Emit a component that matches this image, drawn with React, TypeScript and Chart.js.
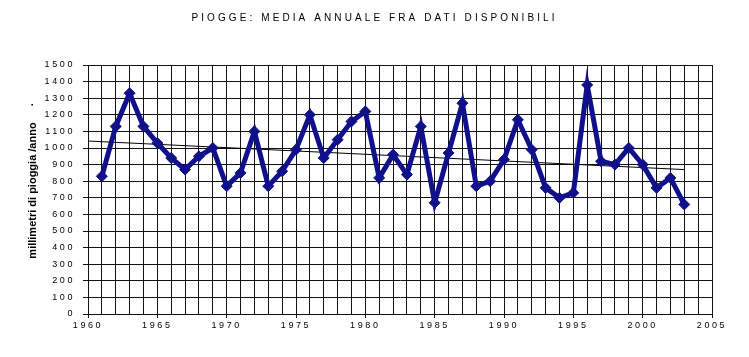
import React, { useEffect, useRef } from 'react';
import { Chart, registerables } from 'chart.js';

Chart.register(...registerables);

// ---- data ----
const TITLE = 'PIOGGE: MEDIA ANNUALE FRA DATI DISPONIBILI';
const Y_LABEL = 'millimetri di pioggia /anno';
const Y_LABEL_MARK = '.';

const years = [
  1961, 1962, 1963, 1964, 1965, 1966, 1967, 1968, 1969, 1970,
  1971, 1972, 1973, 1974, 1975, 1976, 1977, 1978, 1979, 1980,
  1981, 1982, 1983, 1984, 1985, 1986, 1987, 1988, 1989, 1990,
  1991, 1992, 1993, 1994, 1995, 1996, 1997, 1998, 1999, 2000,
  2001, 2002, 2003,
];
const rainfall = [
  830, 1130, 1330, 1130, 1030, 940, 870, 950, 1000, 770,
  850, 1100, 770, 860, 990, 1200, 940, 1050, 1160, 1220,
  820, 960, 840, 1130, 670, 970, 1270, 770, 800, 930,
  1170, 990, 760, 700, 730, 1380, 920, 900, 1000, 900,
  760, 820, 660,
];
const trendYears = [1960, 2003];
const trendValues = [1042, 870];

const X_MIN = 1960;
const X_MAX = 2005;
const X_LABEL_EVERY = 5;
const Y_MIN = 0;
const Y_MAX = 1500;
const Y_STEP = 100;

const FONT = "'Liberation Sans', Arial, sans-serif";
const LINE_COLOR = '#10108a';
const GRID_COLOR = '#111111';

const spacingPlugin = {
  id: 'excelText',
  beforeDraw(chart: any) {
    chart.ctx.letterSpacing = '3.1px';
  },
  afterDatasetsDraw(chart: any) {
    chart.ctx.letterSpacing = '2.6px';
  },
  afterDraw(chart: any) {
    const ctx = chart.ctx;
    ctx.letterSpacing = '0px';
    const ca = chart.chartArea;
    ctx.save();
    ctx.fillStyle = '#000';
    ctx.font = `bold 11px ${FONT}`;
    const cx = 33;
    const cy = (ca.top + ca.bottom) / 2 + 1;
    ctx.translate(cx, cy);
    ctx.rotate(-Math.PI / 2);
    ctx.textAlign = 'center';
    ctx.textBaseline = 'middle';
    ctx.fillText(Y_LABEL, 0, 0);
    const w = ctx.measureText(Y_LABEL).width;
    ctx.textAlign = 'left';
    ctx.fillText(Y_LABEL_MARK, w / 2 + 16, -3);
    ctx.restore();
  },
};

export default function App() {
  const ref = useRef<HTMLCanvasElement | null>(null);

  useEffect(() => {
    if (!ref.current) return;
    const chart = new Chart(ref.current, {
      type: 'line',
      data: {
        datasets: [
          {
            label: 'Piogge',
            data: years.map((y, i) => ({ x: y, y: rainfall[i] })),
            borderColor: LINE_COLOR,
            backgroundColor: LINE_COLOR,
            borderWidth: 5,
            pointStyle: 'rectRot',
            pointRadius: 5.5,
            pointBorderWidth: 1,
            pointBackgroundColor: LINE_COLOR,
            pointBorderColor: LINE_COLOR,
            tension: 0,
            order: 1,
          },
          {
            label: 'Tendenza',
            data: trendYears.map((y, i) => ({ x: y, y: trendValues[i] })),
            borderColor: '#000000',
            borderWidth: 1,
            pointRadius: 0,
            tension: 0,
            order: 2,
          },
        ],
      },
      options: {
        responsive: false,
        animation: false,
        devicePixelRatio: 1,
        layout: { padding: 0 },
        plugins: {
          legend: { display: false },
          tooltip: { enabled: false },
          title: {
            display: true,
            text: TITLE,
            color: '#000',
            font: { family: FONT, size: 10, weight: 'normal' },
            padding: { top: 12, bottom: 41 },
          },
        },
        scales: {
          x: {
            type: 'linear',
            min: X_MIN,
            max: X_MAX,
            afterFit: (s: any) => { s.height = 43; s.paddingRight = 37; },
            ticks: {
              stepSize: 1,
              autoSkip: false,
              maxRotation: 0,
              padding: 2,
              color: '#000',
              z: 1,
              font: { family: FONT, size: 9 },
              callback: (v: any) => (Number(v) % X_LABEL_EVERY === 0 ? String(v) : ''),
            },
            grid: {
              color: GRID_COLOR,
              lineWidth: 1,
              tickLength: 4,
              tickColor: (c: any) =>
                c.tick && c.tick.value % X_LABEL_EVERY === 0 ? GRID_COLOR : 'rgba(0,0,0,0)',
            },
            border: { color: GRID_COLOR, width: 1 },
          },
          y: {
            min: Y_MIN,
            max: Y_MAX,
            afterFit: (s: any) => { s.width = 88; },
            ticks: {
              stepSize: Y_STEP,
              padding: 8,
              color: '#000',
              z: 1,
              font: { family: FONT, size: 9 },
              callback: (v: any) => String(v),
            },
            grid: {
              color: GRID_COLOR,
              lineWidth: 1,
              tickLength: 5,
              tickColor: GRID_COLOR,
            },
            border: { color: GRID_COLOR, width: 1 },
          },
        },
      },
      plugins: [spacingPlugin],
    });
    return () => chart.destroy();
  }, []);

  return (
    <div style={{ position: 'fixed', left: 0, top: 0, width: 749, height: 357, background: '#fff' }}>
      <canvas ref={ref} width={749} height={357} style={{ display: 'block' }} />
    </div>
  );
}
